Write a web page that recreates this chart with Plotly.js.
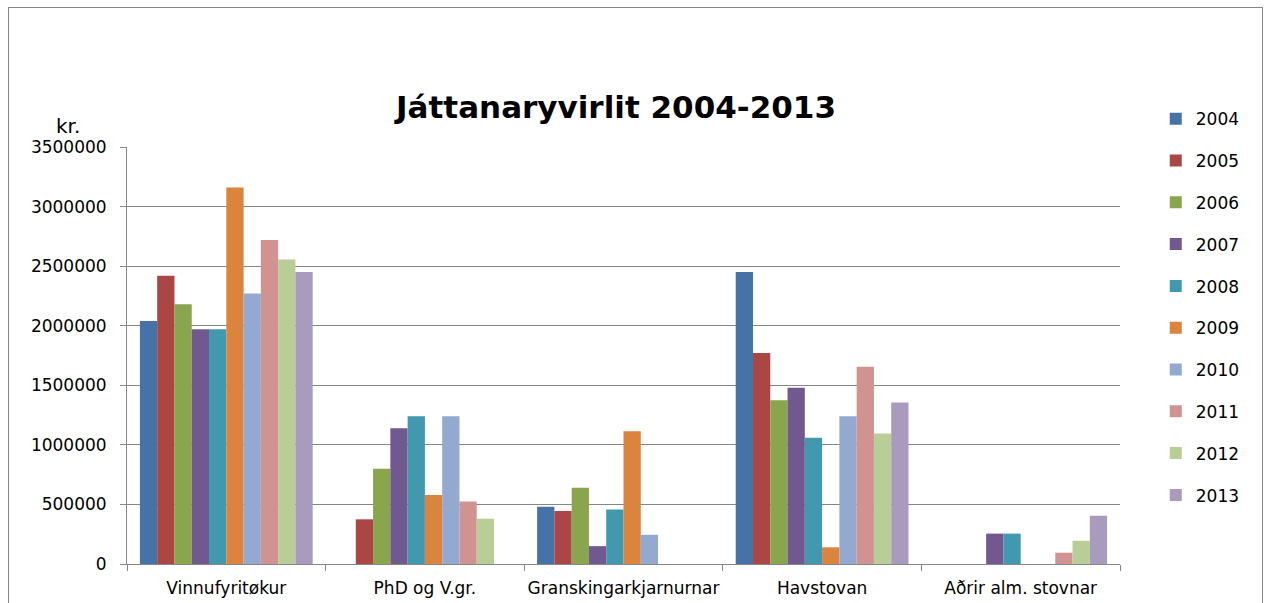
<!DOCTYPE html>
<html>
<head>
<meta charset="utf-8">
<script src="https://cdn.plot.ly/plotly-3.0.1.min.js"></script>
<style>
  html, body { margin: 0; padding: 0; background: #fff; overflow: hidden; }
  #frame { position: absolute; left: 8px; top: 7px; width: 1255px; height: 640px; border: 1px solid #868686; box-sizing: border-box; }
  #plot { position: absolute; left: 0; top: 0; width: 1268px; height: 603px; }
</style>
</head>
<body>
<div id="frame"></div>
<div id="plot"></div>
<script>
// Categories and yearly values (kr.)
const categories = ["Vinnufyritøkur", "PhD og V.gr.", "Granskingarkjarnurnar", "Havstovan", "Aðrir alm. stovnar"];
const years = ["2004", "2005", "2006", "2007", "2008", "2009", "2010", "2011", "2012", "2013"];

const v2004 = [2040000, 0, 480000, 2450000, 0];
const v2005 = [2420000, 375000, 445000, 1770000, 0];
const v2006 = [2180000, 800000, 640000, 1375000, 0];
const v2007 = [1970000, 1140000, 150000, 1480000, 255000];
const v2008 = [1970000, 1240000, 458000, 1060000, 255000];
const v2009 = [3160000, 580000, 1115000, 140000, 0];
const v2010 = [2270000, 1240000, 245000, 1240000, 0];
const v2011 = [2720000, 525000, 0, 1655000, 95000];
const v2012 = [2555000, 380000, 0, 1095000, 195000];
const v2013 = [2450000, 0, 0, 1355000, 405000];

const colors = ["#4572A7", "#AA4643", "#89A54E", "#71588F", "#4198AF",
                "#DB843D", "#93A9CF", "#D19392", "#B9CD96", "#A99BBD"];

const series = [v2004, v2005, v2006, v2007, v2008, v2009, v2010, v2011, v2012, v2013];

const font = "'DejaVu Sans', sans-serif";

const traces = series.map((vals, i) => ({
  type: "bar",
  name: years[i],
  x: categories,
  y: vals,
  legendgroup: "g" + i,
  marker: { color: colors[i] },
}));

const layout = {
  width: 1268,
  height: 603,
  margin: { l: 127, r: 148, t: 147, b: 39 },
  paper_bgcolor: "rgba(0,0,0,0)",
  plot_bgcolor: "#ffffff",
  barmode: "group",
  bargap: 0.13,
  bargroupgap: 0,
  font: { family: font, color: "#000", size: 17 },
  title: {
    text: "<b>Játtanaryvirlit 2004-2013</b>",
    font: { family: font, size: 31, color: "#000" },
    x: 616 / 1268,
    xanchor: "center",
    y: 1 - 107 / 603,
    yanchor: "middle",
  },
  xaxis: {
    type: "category",
    tickson: "boundaries",
    tickangle: 0,
    ticks: "outside",
    ticklen: 6,
    tickcolor: "#868686",
    ticklabelstandoff: 9,
    showgrid: false,
    showline: true,
    linecolor: "#868686",
    linewidth: 1,
    tickfont: { family: font, size: 17, color: "#000" },
    automargin: false,
  },
  yaxis: {
    range: [0, 3500000],
    dtick: 500000,
    tickformat: "d",
    ticks: "outside",
    ticklen: 6,
    tickcolor: "#868686",
    ticklabelstandoff: 10,
    showgrid: true,
    gridcolor: "#868686",
    gridwidth: 1,
    showline: true,
    linecolor: "#868686",
    linewidth: 1,
    zeroline: false,
    tickfont: { family: font, size: 17, color: "#000" },
    automargin: false,
  },
  legend: {
    x: 1.036,
    xanchor: "left",
    y: 1.11,
    yanchor: "top",
    traceorder: "grouped",
    tracegroupgap: 16.7,
    maxheight: 560,
    font: { family: font, size: 17, color: "#000" },
    bgcolor: "rgba(0,0,0,0)",
    itemwidth: 30,
  },
  annotations: [
    {
      text: "kr.",
      xref: "paper",
      yref: "paper",
      x: -(127 - 68) / 992,
      y: 1 + (147 - 126) / 417,
      xanchor: "center",
      yanchor: "middle",
      showarrow: false,
      font: { family: font, size: 20, color: "#000" },
    },
  ],
  showlegend: true,
};

Plotly.newPlot("plot", traces, layout, { displayModeBar: false, staticPlot: true });
</script>
</body>
</html>
